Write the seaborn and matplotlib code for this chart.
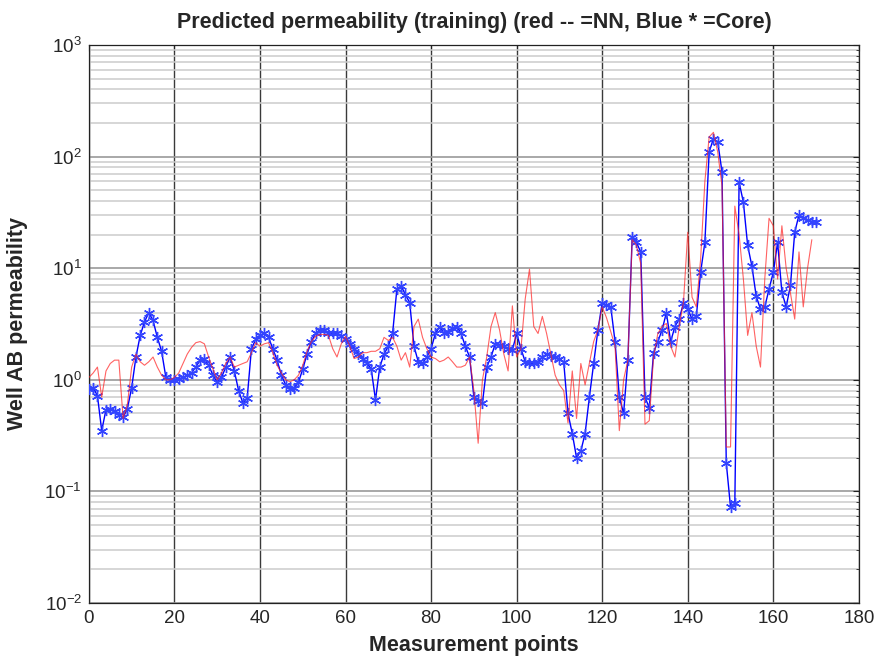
import numpy as np
import pandas as pd
import matplotlib
matplotlib.use("Agg")
import matplotlib.pyplot as plt
import seaborn as sns
from matplotlib.ticker import LogLocator, LogFormatterMathtext, MultipleLocator, NullFormatter

core_perm = [
    0.82, 0.85, 0.72, 0.35, 0.54, 0.55, 0.53, 0.48, 0.46, 0.55,
    0.85, 1.6, 2.5, 3.3, 4.0, 3.4, 2.4, 1.8, 1.05, 1.0,
    1.0, 1.02, 1.05, 1.1, 1.15, 1.3, 1.5, 1.55, 1.35, 1.1,
    0.95, 1.05, 1.3, 1.6, 1.2, 0.8, 0.62, 0.68, 1.9, 2.3,
    2.5, 2.6, 2.4, 1.9, 1.5, 1.1, 0.9, 0.82, 0.85, 0.95,
    1.25, 1.7, 2.2, 2.6, 2.8, 2.8, 2.65, 2.6, 2.6, 2.45,
    2.3, 2.1, 1.9, 1.7, 1.55, 1.4, 1.25, 0.66, 1.3, 1.7,
    2.0, 2.6, 6.5, 6.9, 5.8, 4.9, 2.0, 1.45, 1.4, 1.6,
    1.9, 2.6, 3.0, 2.6, 2.7, 2.9, 3.0, 2.6, 2.0, 1.6,
    0.7, 0.65, 0.62, 1.3, 1.6, 2.1, 2.05, 2.0, 1.9, 1.85,
    2.6, 1.9, 1.45, 1.4, 1.4, 1.45, 1.6, 1.7, 1.65, 1.6,
    1.55, 1.45, 0.5, 0.33, 0.2, 0.23, 0.33, 0.7, 1.4, 2.8,
    4.9, 4.7, 4.5, 2.2, 0.7, 0.5, 1.5, 19.0, 17.0, 14.0,
    0.7, 0.56, 1.75, 2.2, 2.8, 4.0, 2.2, 3.0, 3.5, 4.9,
    4.3, 3.5, 3.7, 9.2, 17.0, 110.0, 145.0, 136.0, 73.0, 0.18,
    0.072, 0.078, 59.0, 39.0, 16.0, 10.4, 5.6, 4.3, 4.5, 6.5,
    9.2, 17.0, 6.1, 4.5, 7.0, 21.0, 30.0, 28.0, 27.0, 26.0,
    26.0,
]

nn_perm = [
    1.05, 1.15, 1.3, 0.7, 1.2, 1.4, 1.5, 1.5, 0.45, 0.6,
    1.3, 1.7, 1.45, 1.35, 1.45, 1.6, 1.3, 1.1, 1.0, 1.0,
    1.05, 1.15, 1.4, 1.7, 1.95, 2.15, 2.2, 2.1, 1.6, 1.25,
    1.0, 1.15, 1.4, 1.6, 1.3, 1.35, 1.4, 1.45, 1.75, 2.15,
    2.0, 2.1, 2.15, 1.75, 1.35, 1.15, 1.0, 0.96, 1.0, 1.1,
    1.35, 1.8, 2.2, 2.45, 2.55, 2.55, 2.5, 1.9, 1.6, 2.1,
    2.45, 2.0, 1.55, 1.6, 1.75, 1.75, 1.8, 1.8, 1.9, 2.4,
    2.25, 2.4, 2.0, 1.5, 1.75, 1.3, 3.0, 3.5, 2.4, 1.9,
    1.6, 1.55, 1.45, 1.5, 1.6, 1.45, 1.3, 1.3, 1.35, 1.6,
    0.8, 0.27, 1.0, 1.6, 3.0, 4.0, 2.8, 1.7, 1.2, 4.6,
    1.6, 1.9, 5.3, 9.8, 3.0, 2.6, 3.7, 2.6, 1.7, 1.1,
    0.9, 0.8, 0.41, 1.2, 0.45, 1.4, 0.9, 1.4, 2.2, 2.8,
    4.5, 3.6, 2.7, 2.0, 0.35, 1.0, 1.5, 18.0, 16.0, 11.0,
    0.4, 0.43, 1.6, 2.6, 3.0, 3.2, 2.0, 1.6, 3.0, 5.0,
    21.0, 5.5, 4.5, 12.0, 60.0, 150.0, 165.0, 110.0, 55.0, 0.25,
    0.25, 36.0, 20.0, 8.0, 2.5, 4.0, 2.0, 1.3, 8.0, 28.0,
    24.0, 8.0, 24.0, 10.0, 6.0, 3.5, 14.0, 4.5, 10.0, 18.0,
]

title_text = "Predicted permeability (training) (red -- =NN, Blue * =Core)"
x_label = "Measurement points"
y_label = "Well AB permeability"

core_df = pd.DataFrame({"point": np.arange(len(core_perm)), "perm": core_perm})
nn_df = pd.DataFrame({"point": np.arange(len(nn_perm)), "perm": nn_perm})

sns.set_style("white")
plt.rcParams["font.family"] = ["Liberation Sans", "DejaVu Sans"]

fig = plt.figure(figsize=(8.8, 6.67), dpi=100)
ax = fig.add_axes([0.101, 0.096, 0.875, 0.8365])

sns.lineplot(data=core_df, x="point", y="perm", ax=ax, color="#0000ff",
             linewidth=1.0, marker=(6, 2, 0), markersize=8,
             markeredgecolor="#3344ff", markeredgewidth=1.0,
             estimator=None, sort=False, zorder=3)
sns.lineplot(data=nn_df, x="point", y="perm", ax=ax, color="#ff2020",
             linewidth=0.8, alpha=0.7, estimator=None, sort=False, zorder=4)

ax.set_yscale("log")
ax.set_xlim(0, 180)
ax.set_ylim(1e-2, 1e3)
ax.xaxis.set_major_locator(MultipleLocator(20))
ax.yaxis.set_major_locator(LogLocator(base=10, numticks=10))
ax.yaxis.set_minor_locator(LogLocator(base=10, subs=np.arange(2, 10), numticks=20))
ax.yaxis.set_major_formatter(LogFormatterMathtext())
ax.yaxis.set_minor_formatter(NullFormatter())

ax.grid(False)
ax.grid(which="major", axis="x", color="#3a3a3a", linewidth=1.0)
ax.grid(which="major", axis="y", color="#999999", linewidth=1.2)
ax.grid(which="minor", axis="y", color="#cccccc", linewidth=1.1)
ax.set_axisbelow(True)

ax.tick_params(which="both", direction="in", top=True, right=True,
               labelsize=13.5, length=4, color="#222222", pad=5)
ax.tick_params(which="minor", length=2.5)
for s in ax.spines.values():
    s.set_color("#222222")
    s.set_linewidth(0.9)
    s.set_visible(True)

ax.set_title(title_text, fontsize=15.5, fontweight="bold", pad=12)
ax.set_xlabel(x_label, fontsize=15.5, fontweight="bold", labelpad=6)
ax.set_ylabel(y_label, fontsize=15.5, fontweight="bold", labelpad=12)

fig.savefig("out.png", dpi=100)
